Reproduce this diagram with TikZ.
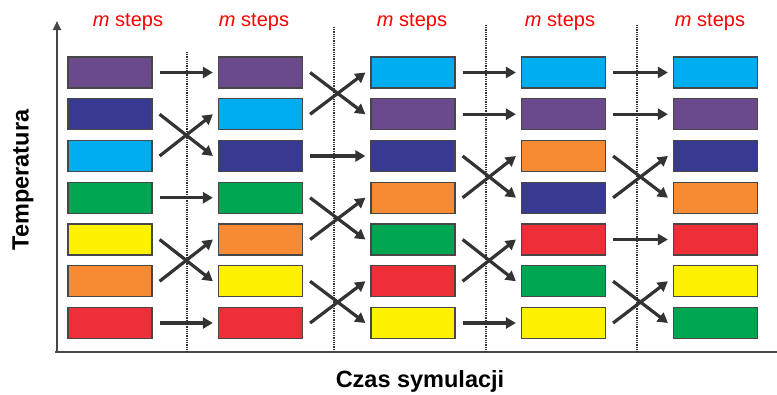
\documentclass[tikz,border=0pt]{standalone}
\usepackage{fontspec}
\setmainfont{Liberation Sans}
\usetikzlibrary{arrows.meta}
\definecolor{cpur}{HTML}{6A4A8A}
\definecolor{cnav}{HTML}{373A90}
\definecolor{ccya}{HTML}{00AEEF}
\definecolor{cgre}{HTML}{00A651}
\definecolor{cyel}{HTML}{FFF200}
\definecolor{cora}{HTML}{F68B33}
\definecolor{cred}{HTML}{EE2F37}
\definecolor{dk}{HTML}{333333}
\tikzset{
  box/.style={draw=dk!90, line width=1.2pt, minimum width=84pt, minimum height=31pt, inner sep=0pt},
  arr/.style={draw=dk, line width=3.2pt, -{Triangle[length=10pt,width=11pt]}},
  sep/.style={draw=dk, line width=2pt, dash pattern=on 0.9pt off 0.9pt},
  axisline/.style={draw=dk!90, line width=2.2pt},
  steplbl/.style={text=red, font=\fontsize{20}{24}\selectfont},
  axlbl/.style={font=\fontsize{23.5}{28}\selectfont\bfseries}
}
\begin{document}
\begin{tikzpicture}[x=1pt,y=-1pt]
\useasboundingbox (0,0) rectangle (777,394);
% axes
\coordinate (o) at (57,352);
\coordinate (ytop) at (57,21);
\coordinate (xl) at (55,352);
\coordinate (xr) at (777,352);
\draw[axisline,-{Triangle[length=9pt,width=8pt]}] (o) -- (ytop);
\draw[axisline] (xl) -- (xr);
% separators
\coordinate (s1t) at (187,52); \coordinate (s1b) at (187,351);
\coordinate (s2t) at (334,27); \coordinate (s2b) at (334,351);
\coordinate (s3t) at (486,25); \coordinate (s3b) at (486,351);
\coordinate (s4t) at (637,25); \coordinate (s4b) at (637,351);
\draw[sep] (s1t) -- (s1b);
\draw[sep] (s2t) -- (s2b);
\draw[sep] (s3t) -- (s3b);
\draw[sep] (s4t) -- (s4b);
% labels
\node[steplbl] (l1) at (128,22) {\textit{m} steps};
\node[steplbl] (l2) at (254,22) {\textit{m} steps};
\node[steplbl] (l3) at (412,22) {\textit{m} steps};
\node[steplbl] (l4) at (560,22) {\textit{m} steps};
\node[steplbl] (l5) at (710,22) {\textit{m} steps};
\node[axlbl, rotate=90] (ylab) at (23,180) {Temperatura};
\node[axlbl] (xlab) at (420,381) {Czas symulacji};
% boxes
\foreach \c/\x/\cols in {1/110/{cpur,cnav,ccya,cgre,cyel,cora,cred},
                         2/260.5/{cpur,ccya,cnav,cgre,cora,cyel,cred},
                         3/413/{ccya,cpur,cnav,cora,cgre,cred,cyel},
                         4/563.5/{ccya,cpur,cora,cnav,cred,cgre,cyel},
                         5/715.5/{ccya,cpur,cnav,cora,cred,cyel,cgre}}{
  \foreach \col [count=\r] in \cols {
    \node[box, fill=\col] (b\c\r) at (\x,{72.5+41.75*(\r-1)}) {};
  }
}
% straight arrows
\foreach \c/\n/\r in {1/2/1,1/2/4,1/2/7, 2/3/3, 3/4/1,3/4/2,3/4/7, 4/5/1,4/5/2,4/5/5}{
  \draw[arr] ([xshift=7pt]b\c\r.east) -- ([xshift=-5pt]b\n\r.west);
}
% crossing arrows
\foreach \c/\n/\a/\b in {1/2/2/3,1/2/5/6, 2/3/1/2,2/3/4/5,2/3/6/7, 3/4/3/4,3/4/5/6, 4/5/3/4,4/5/6/7}{
  \draw[arr] ([xshift=7pt]b\c\a.east) -- ([xshift=-5pt]b\n\b.west);
  \draw[arr] ([xshift=7pt]b\c\b.east) -- ([xshift=-5pt]b\n\a.west);
}
\end{tikzpicture}
\end{document}
